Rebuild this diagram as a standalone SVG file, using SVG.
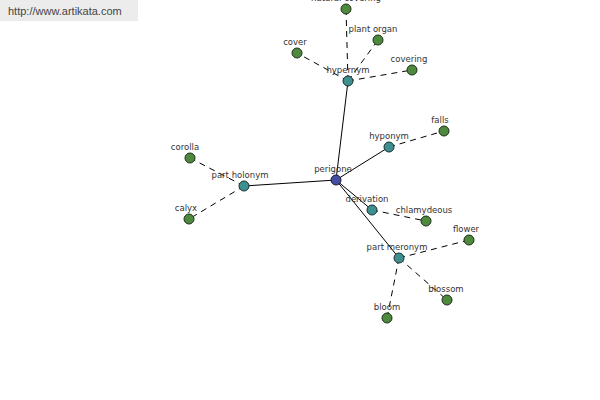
<svg xmlns="http://www.w3.org/2000/svg" width="600" height="400" viewBox="0 0 600 400">
<style>
.l{font-family:"DejaVu Sans","Liberation Sans",sans-serif;font-size:8.5px;fill:#333;text-anchor:middle}
.s{stroke:#000;stroke-width:1;fill:none}
.d{stroke:#000;stroke-width:1;fill:none;stroke-dasharray:6,5}
.g{fill:#4e8a3e;stroke:#1e2e1a;stroke-width:1}
.t{fill:#3f8f8f;stroke:#1a2e2e;stroke-width:1}
.b{fill:#454e9e;stroke:#1a1a3a;stroke-width:1}
</style>
<rect x="0" y="0" width="138" height="21" fill="#ececec"/>
<text x="8" y="15" style="font-family:'Liberation Sans',Arial,sans-serif;font-size:11px;fill:#444">http://www.artikata.com</text>
<g id="connectors">
<line class="s" x1="336" y1="180" x2="348" y2="81"/>
<line class="s" x1="336" y1="180" x2="389" y2="147"/>
<line class="s" x1="336" y1="180" x2="244" y2="186"/>
<line class="s" x1="336" y1="180" x2="372" y2="210"/>
<line class="s" x1="336" y1="180" x2="399" y2="258"/>
<line class="d" x1="348" y1="81" x2="346" y2="9"/>
<line class="d" x1="348" y1="81" x2="378" y2="40"/>
<line class="d" x1="348" y1="81" x2="297" y2="53"/>
<line class="d" x1="348" y1="81" x2="412" y2="70"/>
<line class="d" x1="389" y1="147" x2="444" y2="131"/>
<line class="d" x1="244" y1="186" x2="190" y2="158"/>
<line class="d" x1="244" y1="186" x2="189" y2="219"/>
<line class="d" x1="372" y1="210" x2="426" y2="221"/>
<line class="d" x1="399" y1="258" x2="469" y2="240"/>
<line class="d" x1="399" y1="258" x2="447" y2="300"/>
<line class="d" x1="399" y1="258" x2="387" y2="318"/>
</g>
<g id="perigone"><circle class="b" cx="336" cy="180" r="5"/><text class="l" x="333" y="172">perigone</text></g>
<g id="hypernym"><circle class="t" cx="348" cy="81" r="5"/><text class="l" x="348" y="73">hypernym</text></g>
<g id="natural-covering"><circle class="g" cx="346" cy="9" r="5"/><text class="l" x="346" y="1">natural covering</text></g>
<g id="plant-organ"><circle class="g" cx="378" cy="40" r="5"/><text class="l" x="373" y="32">plant organ</text></g>
<g id="cover"><circle class="g" cx="297" cy="53" r="5"/><text class="l" x="295" y="45">cover</text></g>
<g id="covering"><circle class="g" cx="412" cy="70" r="5"/><text class="l" x="409" y="62">covering</text></g>
<g id="hyponym"><circle class="t" cx="389" cy="147" r="5"/><text class="l" x="389" y="139">hyponym</text></g>
<g id="falls"><circle class="g" cx="444" cy="131" r="5"/><text class="l" x="440" y="123">falls</text></g>
<g id="part-holonym"><circle class="t" cx="244" cy="186" r="5"/><text class="l" x="240" y="178">part holonym</text></g>
<g id="corolla"><circle class="g" cx="190" cy="158" r="5"/><text class="l" x="185" y="150">corolla</text></g>
<g id="calyx"><circle class="g" cx="189" cy="219" r="5"/><text class="l" x="186" y="211">calyx</text></g>
<g id="derivation"><circle class="t" cx="372" cy="210" r="5"/><text class="l" x="367" y="202">derivation</text></g>
<g id="chlamydeous"><circle class="g" cx="426" cy="221" r="5"/><text class="l" x="424" y="213">chlamydeous</text></g>
<g id="part-meronym"><circle class="t" cx="399" cy="258" r="5"/><text class="l" x="397" y="250">part meronym</text></g>
<g id="flower"><circle class="g" cx="469" cy="240" r="5"/><text class="l" x="466" y="232">flower</text></g>
<g id="blossom"><circle class="g" cx="447" cy="300" r="5"/><text class="l" x="446" y="292">blossom</text></g>
<g id="bloom"><circle class="g" cx="387" cy="318" r="5"/><text class="l" x="387" y="310">bloom</text></g>
</svg>
